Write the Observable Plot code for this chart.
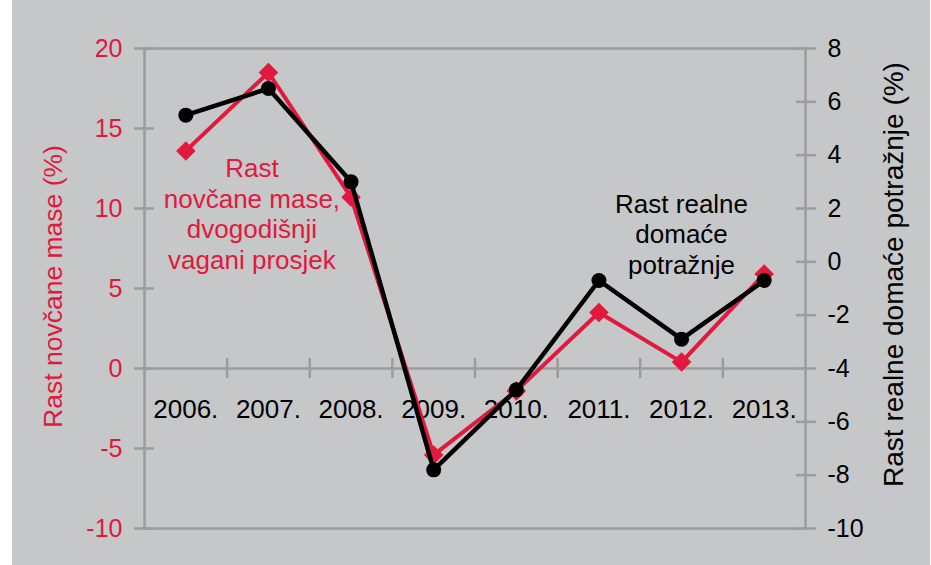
<!DOCTYPE html>
<html>
<head>
<meta charset="utf-8">
<script src="https://cdn.jsdelivr.net/npm/d3@7"></script>
<script src="https://cdn.jsdelivr.net/npm/@observablehq/plot@0.6"></script>
<style>
  html, body { margin: 0; padding: 0; background: #ffffff; }
  #chart { padding-left: 12px; width: 931px; height: 565px; box-sizing: border-box; }
  #chart svg { display: block; }
</style>
</head>
<body>
<div id="chart"></div>
<script>
// Categories
const years = ["2006.", "2007.", "2008.", "2009.", "2010.", "2011.", "2012.", "2013."];
// Left axis: money growth (%), two-year weighted average
const moneyGrowth = [13.6, 18.5, 10.7, -5.4, -1.4, 3.5, 0.4, 5.9];
// Right axis: real domestic demand growth (%)
const demandGrowth = [5.5, 6.5, 3.0, -7.8, -4.8, -0.7, -2.9, -0.7];
// Tick labels
const leftTicks = [-10, -5, 0, 5, 10, 15, 20];
const rightTicks = [-10, -8, -6, -4, -2, 0, 2, 4, 6, 8];
// Texts
const leftTitle = "Rast novčane mase (%)";
const rightTitle = "Rast realne domaće potražnje (%)";
const moneyNote = "Rast\nnovčane mase,\ndvogodišnji\nvagani prosjek";
const demandNote = "Rast realne\ndomaće\npotražnje";

const red = "#e2183c";
const black = "#000000";
const grey = "#9b9c9e";
const bg = "#c6c7c9";

// Map right-axis domain [-10, 8] onto left-axis domain [-10, 20]
const rightDomain = [-10, 8];
const leftDomain = [-10, 20];
const toLeft = d3.scaleLinear().domain(rightDomain).range(leftDomain);

const idx = years.map((_, i) => i);
const moneyData = idx.map(i => ({i, v: moneyGrowth[i]}));
const demandData = idx.map(i => ({i, v: toLeft(demandGrowth[i])}));
const boundaries = idx.slice(1).map(i => i - 0.5);

const chart = Plot.plot({
  width: 918,
  height: 565,
  marginLeft: 132,
  marginRight: 125,
  marginTop: 48,
  marginBottom: 37,
  style: {background: bg, fontFamily: "'Liberation Sans', Arial, sans-serif", fontSize: "25px"},
  x: {domain: [-0.5, years.length - 0.5], axis: null},
  y: {domain: leftDomain, axis: null},
  marks: [
    Plot.frame({stroke: grey, strokeWidth: 2.5}),
    Plot.ruleY([0], {stroke: grey, strokeWidth: 2.5}),
    Plot.ruleX(boundaries, {y1: -0.625, y2: 0.625, stroke: grey, strokeWidth: 2.5}),
    Plot.axisY({
      anchor: "left", ticks: leftTicks, tickFormat: d => String(d),
      tickSize: 20, dx: 10, tickPadding: 12, label: null,
      stroke: grey, strokeWidth: 2.5, fill: red, fontSize: 25
    }),
    Plot.axisY({
      anchor: "right", ticks: rightTicks.map(toLeft), tickFormat: d => String(Math.round(toLeft.invert(d))),
      tickSize: 20, dx: -10, tickPadding: 12, label: null,
      stroke: grey, strokeWidth: 2.5, fill: black, fontSize: 25
    }),
    Plot.text(years, {x: (d, i) => i, y: 0, dy: 41, text: d => d, fill: black, fontSize: 26, lineAnchor: "middle"}),
    Plot.text([leftTitle], {frameAnchor: "left", textAnchor: "middle", rotate: -90, dx: -91, dy: -2, fill: red, fontSize: 26.5}),
    Plot.text([rightTitle], {frameAnchor: "right", textAnchor: "middle", rotate: -90, dx: 89, dy: -14, fill: black, fontSize: 28}),
    Plot.line(moneyData, {x: "i", y: "v", stroke: red, strokeWidth: 4}),
    Plot.dot(moneyData, {x: "i", y: "v", symbol: "diamond2", r: 8.8, fill: red, stroke: "none"}),
    Plot.line(demandData, {x: "i", y: "v", stroke: black, strokeWidth: 4.5}),
    Plot.dot(demandData, {x: "i", y: "v", r: 7.5, fill: black, stroke: "none"}),
    Plot.text([moneyNote], {x: 0.8, y: 9.7, text: d => d, fill: red, fontSize: 26, lineHeight: 1.18, lineAnchor: "middle"}),
    Plot.text([demandNote], {x: 6.0, y: 8.44, text: d => d, fill: black, fontSize: 26, lineHeight: 1.18, lineAnchor: "middle"})
  ]
});
document.getElementById("chart").appendChild(chart);
</script>
</body>
</html>
